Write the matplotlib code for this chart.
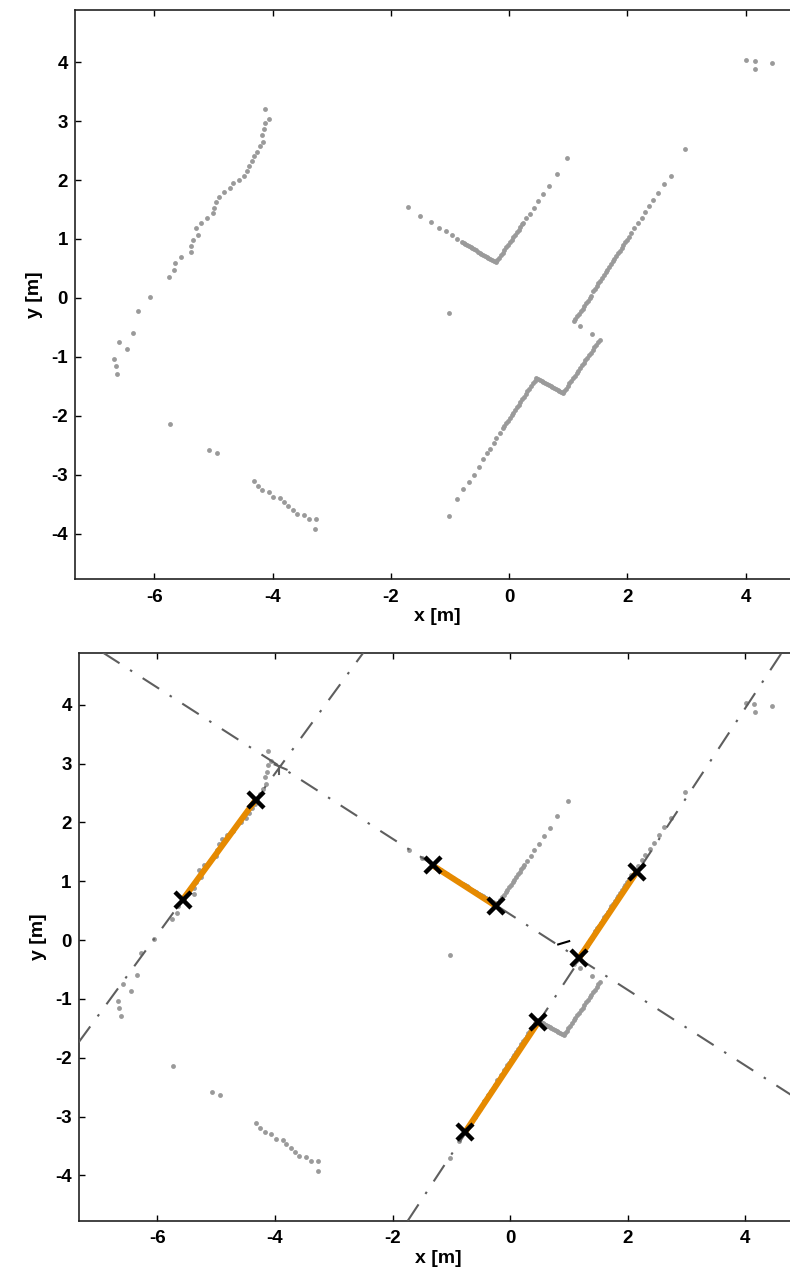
import matplotlib
matplotlib.use('Agg')
import matplotlib.pyplot as plt

# ---------------- data (metres) ----------------
left_wall_x = [-4.127, -4.065, -4.127, -4.138, -4.172, -4.161, -4.211, -4.262, -4.313, -4.346,
               -4.397, -4.436, -4.486, -4.571, -4.672, -4.718, -4.819, -4.909, -4.949, -4.983,
               -5.010, -5.106, -5.203, -5.292, -5.253, -5.343, -5.372, -5.377, -5.551, -5.652,
               -5.664, -5.753, -6.064, -6.272, -6.356, -6.453, -6.588, -6.672, -6.649, -6.622]
left_wall_y = [3.214, 3.044, 2.971, 2.864, 2.773, 2.654, 2.576, 2.485, 2.407, 2.322,
               2.242, 2.158, 2.073, 2.005, 1.942, 1.858, 1.790, 1.717, 1.627, 1.531,
               1.434, 1.349, 1.276, 1.186, 1.068, 0.983, 0.881, 0.780, 0.695, 0.586,
               0.468, 0.361, 0.022, -0.220, -0.593, -0.864, -0.752, -1.029, -1.159, -1.283]

low_left_x = [-5.737, -5.078, -4.943, -4.318, -4.250, -4.177, -4.065, -3.992, -3.873, -3.811,
              -3.733, -3.659, -3.586, -3.468, -3.383, -3.270, -3.277]
low_left_y = [-2.136, -2.583, -2.634, -3.108, -3.187, -3.266, -3.295, -3.373, -3.402, -3.458,
              -3.532, -3.600, -3.673, -3.690, -3.746, -3.758, -3.927]

top_right_x = [4.003, 4.150, 4.162, 4.449]
top_right_y = [4.039, 4.017, 3.881, 3.983]

lone_x = [-1.024]
lone_y = [-0.249]

v_shape_x = [-1.716, -1.503, -1.323, -1.182, -1.069, -0.968, -0.883,
             -0.80, -0.77, -0.74, -0.71, -0.68, -0.65, -0.62, -0.59, -0.56, -0.53,
             -0.50, -0.47, -0.44, -0.41, -0.38, -0.35, -0.32, -0.29, -0.26, -0.23,
             -0.20, -0.17, -0.14, -0.11, -0.08, -0.05, -0.02, 0.01, 0.04, 0.07,
             0.10, 0.13, 0.16, 0.19, 0.22, 0.24,
             0.282, 0.350, 0.412, 0.485, 0.569, 0.671, 0.801, 0.975]
v_shape_y = [1.536, 1.395, 1.288, 1.192, 1.129, 1.061, 1.005,
             0.949, 0.931, 0.913, 0.895, 0.877, 0.859, 0.841, 0.823, 0.805, 0.787,
             0.769, 0.751, 0.733, 0.715, 0.697, 0.678, 0.660, 0.642, 0.624, 0.606,
             0.639, 0.683, 0.726, 0.770, 0.813, 0.857, 0.900, 0.944, 0.987, 1.030,
             1.074, 1.117, 1.161, 1.204, 1.248, 1.277,
             1.349, 1.424, 1.525, 1.637, 1.763, 1.903, 2.102, 2.373]

upper_right_x = [2.968, 2.731, 2.618, 2.524, 2.439, 2.372, 2.297, 2.242, 2.179, 2.118, 2.061,
                 2.02, 1.99, 1.96, 1.93, 1.90, 1.87, 1.84, 1.81, 1.78, 1.75, 1.72, 1.69,
                 1.66, 1.63, 1.60, 1.57, 1.54, 1.51, 1.48, 1.45, 1.42, 1.39, 1.36, 1.33,
                 1.30, 1.27, 1.24, 1.21, 1.18, 1.15, 1.12, 1.09,
                 1.194, 1.397]
upper_right_y = [2.525, 2.073, 1.925, 1.780, 1.654, 1.553, 1.451, 1.356, 1.264, 1.180, 1.102,
                 1.036, 0.990, 0.943, 0.897, 0.851, 0.804, 0.758, 0.712, 0.665, 0.619, 0.573, 0.526,
                 0.480, 0.434, 0.387, 0.341, 0.295, 0.248, 0.202, 0.156, 0.109, 0.040, -0.006, -0.050,
                 -0.094, -0.138, -0.180, -0.222, -0.266, -0.310, -0.356, -0.400,
                 -0.481, -0.605]

lower_right_x = [1.53, 1.50, 1.47, 1.44, 1.41, 1.38, 1.35, 1.32, 1.29, 1.26, 1.23, 1.20,
                 1.17, 1.14, 1.11, 1.08, 1.05, 1.02, 0.99, 0.96, 0.93, 0.912,
                 0.88, 0.85, 0.82, 0.79, 0.76, 0.73, 0.70, 0.67, 0.64, 0.61, 0.58, 0.55,
                 0.52, 0.49, 0.462,
                 0.43, 0.40, 0.37, 0.34, 0.31, 0.28, 0.25, 0.22, 0.19, 0.16, 0.13, 0.10,
                 0.07, 0.04, 0.01, -0.02, -0.05, -0.08, -0.10,
                 -0.162, -0.220, -0.264, -0.331, -0.377, -0.444, -0.517, -0.601, -0.681,
                 -0.777, -0.878, -1.019]
lower_right_y = [-0.710, -0.754, -0.797, -0.841, -0.885, -0.928, -0.972, -1.016, -1.059, -1.103,
                 -1.147, -1.190, -1.234, -1.278, -1.321, -1.365, -1.409, -1.452, -1.496, -1.540,
                 -1.584, -1.610,
                 -1.592, -1.575, -1.558, -1.541, -1.524, -1.507, -1.490, -1.474, -1.457, -1.440,
                 -1.423, -1.406, -1.389, -1.372, -1.356,
                 -1.404, -1.449, -1.494, -1.539, -1.585, -1.630, -1.675, -1.720, -1.765, -1.810,
                 -1.855, -1.900, -1.946, -1.991, -2.036, -2.081, -2.126, -2.171, -2.201,
                 -2.288, -2.373, -2.458, -2.571, -2.639, -2.741, -2.864, -3.007, -3.119,
                 -3.249, -3.419, -3.702]

# extracted line fits (slope, intercept)
fit_slopes = [-0.6424, 1.368, 1.518]
fit_intercepts = [0.438, 8.305, -2.125]

# extracted segments (start / end points)
seg_start_x = [-5.571, -1.320, 1.174, -0.770]
seg_start_y = [0.688, 1.271, -0.300, -3.268]
seg_end_x = [-4.325, -0.243, 2.150, 0.476]
seg_end_y = [2.390, 0.579, 1.157, -1.396]

# small stray strokes
stray_gray = [([-4.007, -3.804], [2.986, 2.900]), ([-3.929, -3.929], [2.957, 2.832])]
stray_black = [([0.816, 1.003], [-0.073, -0.017])]

x_ticks = [-6, -4, -2, 0, 2, 4]
y_ticks = [-4, -3, -2, -1, 0, 1, 2, 3, 4]
x_lim = (-7.34, 4.90)
y_lim = (-4.77, 4.887)

# ---------------- style ----------------
plt.rcParams['font.family'] = ['Liberation Sans', 'DejaVu Sans']
plt.rcParams['font.weight'] = 'bold'
plt.rcParams['axes.unicode_minus'] = False
GRAY = '#9a9a9a'
LINE = '#5e5e5e'
ORANGE = '#e68a00'
DASHDOT = (0, (9.4, 6.0, 1.2, 6.0))

fig = plt.figure(figsize=(7.9, 12.8), dpi=100)
ax1 = fig.add_axes([0.0949, 0.5477, 0.9165, 0.4445])
ax2 = fig.add_axes([0.0996, 0.0463, 0.9109, 0.4438])

clusters = [(left_wall_x, left_wall_y), (low_left_x, low_left_y), (top_right_x, top_right_y),
            (lone_x, lone_y), (v_shape_x, v_shape_y), (upper_right_x, upper_right_y),
            (lower_right_x, lower_right_y)]


def style(ax):
    ax.set_xlim(*x_lim)
    ax.set_ylim(*y_lim)
    ax.set_xticks(x_ticks)
    ax.set_yticks(y_ticks)
    ax.tick_params(direction='in', top=True, right=True, length=4.3, width=1.0,
                   labelsize=13.5, colors='black')
    ax.tick_params(axis='x', pad=7)
    ax.tick_params(axis='y', pad=5)
    for s in ax.spines.values():
        s.set_linewidth(1.2)
        s.set_color('#222222')
    ax.set_xlabel('x [m]', fontsize=14, fontweight='bold', labelpad=2)
    ax.set_ylabel('y [m]', fontsize=14, fontweight='bold', labelpad=6)


for ax in (ax1, ax2):
    for cx, cy in clusters:
        ax.plot(cx, cy, 'o', color=GRAY, ms=3.5, mew=0, zorder=2)
    style(ax)

for m, b in zip(fit_slopes, fit_intercepts):
    ax2.axline((0, b), slope=m, color=LINE, lw=1.5, linestyle=DASHDOT, zorder=3)
for sx, sy in stray_gray:
    ax2.plot(sx, sy, color=LINE, lw=1.5, zorder=3)
for sx, sy in stray_black:
    ax2.plot(sx, sy, color='black', lw=1.5, zorder=3)

for x0, y0, x1, y1 in zip(seg_start_x, seg_start_y, seg_end_x, seg_end_y):
    ax2.plot([x0, x1], [y0, y1], color=ORANGE, lw=4.3, solid_capstyle='butt', zorder=4)
ax2.plot(seg_start_x + seg_end_x, seg_start_y + seg_end_y, 'x', color='black',
         ms=11, mew=3.2, zorder=5, linestyle='none')

fig.savefig('out.png', dpi=100)
